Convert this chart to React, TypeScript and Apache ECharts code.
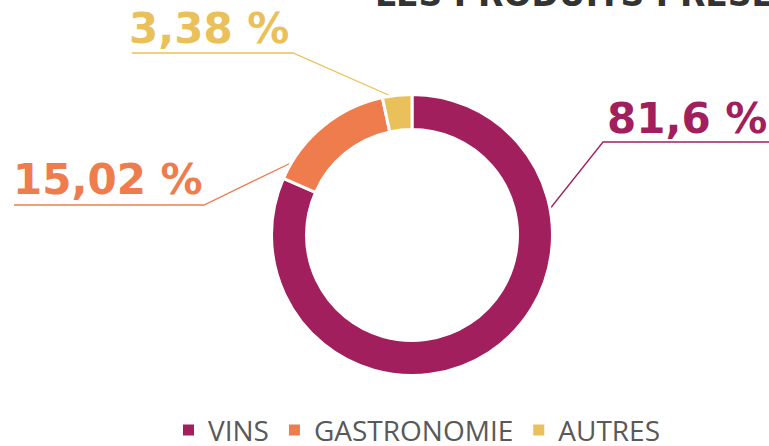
import React, { useEffect, useRef } from "react";
import * as echarts from "echarts";

const categories = ["VINS", "GASTRONOMIE", "AUTRES"];
const values = [81.6, 15.02, 3.38];
const valueLabels = ["81,6 %", "15,02 %", "3,38 %"];
const colors = ["#A11F5C", "#EF7C4D", "#EAC05A"];
const titleText = "LES PRODUITS PRÉSENTÉS";

// label placement: line points, text x, text middle y, align
const labelPlacement: any[] = [
  { pts: [[549, 210], [603, 142], [769, 142]], x: 607, y: 118, align: "left" },
  { pts: [[297, 160], [204, 205], [14, 205]], x: 13, y: 179, align: "left" },
  { pts: [[393, 97], [293, 53], [132, 53]], x: 129, y: 28, align: "left" },
];

export default function App() {
  const ref = useRef<HTMLDivElement>(null);
  useEffect(() => {
    const chart = echarts.init(ref.current!, undefined, { renderer: "svg" });
    chart.setOption({
      animation: false,
      color: colors,
      graphic: [
        {
          type: "text",
          x: 375,
          y: -6,
          style: {
            text: titleText,
            fill: "#333333",
            font: "bold 33px 'DejaVu Sans'",
            verticalAlign: "middle",
            align: "left",
          },
        },
      ],
      legend: {
        left: 176,
        top: 411,
        icon: "rect",
        itemWidth: 13,
        itemHeight: 13,
        itemGap: 18,
        data: categories,
        textStyle: {
          color: "#595959",
          fontFamily: "Open Sans",
          fontSize: 28,
          lineHeight: 26,
          padding: [0, 0, 0, 8],
        },
      },
      series: [
        {
          type: "pie",
          center: [412, 235],
          radius: [105.5, 140.5],
          startAngle: 90,
          clockwise: true,
          avoidLabelOverlap: false,
          itemStyle: { borderColor: "#ffffff", borderWidth: 3 },
          label: {
            show: true,
            position: "outside",
            formatter: (p: any) => valueLabels[p.dataIndex],
            fontFamily: "DejaVu Sans",
            fontWeight: "bold",
            fontSize: 42,
            color: "inherit",
          },
          labelLine: {
            show: true,
            length: 20,
            length2: 20,
            smooth: false,
            lineStyle: { width: 1.3 },
          },
          labelLayout: (params: any) => {
            const lp = labelPlacement[params.dataIndex];
            return {
              x: lp.x,
              y: lp.y,
              align: lp.align,
              verticalAlign: "middle",
              labelLinePoints: lp.pts,
            };
          },
          data: categories.map((c, i) => ({
            name: c,
            value: values[i],
            label: { color: colors[i] },
          })),
        },
      ],
    });
    return () => chart.dispose();
  }, []);
  return (
    <div
      ref={ref}
      style={{ position: "absolute", left: 0, top: 0, width: 769, height: 446 }}
    />
  );
}
